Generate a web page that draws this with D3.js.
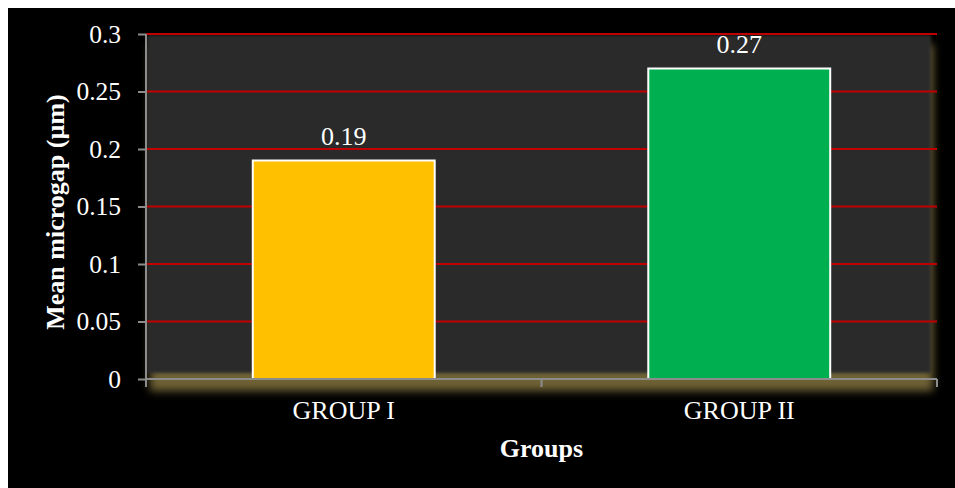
<!DOCTYPE html>
<html>
<head>
<meta charset="utf-8">
<script src="https://cdn.jsdelivr.net/npm/d3@7/dist/d3.min.js"></script>
<style>
  html, body { margin: 0; padding: 0; background: #ffffff; }
  svg { display: block; }
</style>
</head>
<body>
<svg id="chart" width="955" height="488"></svg>
<script>
// Chart data
const groups = ["GROUP I", "GROUP II"];
const meanMicrogap = [0.19, 0.27];
const valueLabels = ["0.19", "0.27"];
const barColors = ["#FFC000", "#00B050"];
const yTicks = [0, 0.05, 0.1, 0.15, 0.2, 0.25, 0.3];
const yTickLabels = ["0", "0.05", "0.1", "0.15", "0.2", "0.25", "0.3"];

const svg = d3.select("#chart");
const W = 955, H = 488;
const plot = { left: 146, right: 937, top: 34, bottom: 379 };
const serif = "'Liberation Serif', 'Times New Roman', serif";
const tickFont = 25.5;
const labelFont = 26;

// Chart area: black panel inside a thin white margin
svg.append("rect").attr("x", 0).attr("y", 0).attr("width", W).attr("height", H).attr("fill", "#ffffff");
svg.append("rect").attr("x", 8).attr("y", 8).attr("width", W - 8).attr("height", H - 8).attr("fill", "#000000");

const defs = svg.append("defs");
defs.append("filter").attr("id", "glow").attr("x", "-10%").attr("y", "-10%").attr("width", "120%").attr("height", "130%")
  .append("feGaussianBlur").attr("stdDeviation", 4);
defs.append("filter").attr("id", "soft").attr("x", "-5%").attr("y", "-5%").attr("width", "110%").attr("height", "110%")
  .append("feGaussianBlur").attr("stdDeviation", 1.5);

const x = d3.scaleBand().domain(groups).range([plot.left, plot.right]).paddingInner(0.54).paddingOuter(0.27);
const y = d3.scaleLinear().domain([0, 0.3]).range([plot.bottom, plot.top]);

// Plot background with an olive glow along its lower edge
svg.append("rect")
  .attr("x", plot.left + 4).attr("y", plot.top + 10)
  .attr("width", plot.right - plot.left - 8).attr("height", plot.bottom - plot.top + 2)
  .attr("fill", "#6e6234").attr("filter", "url(#glow)");
svg.append("rect")
  .attr("x", plot.left + 1).attr("y", plot.top + 1)
  .attr("width", plot.right - plot.left - 7).attr("height", plot.bottom - plot.top - 7)
  .attr("fill", "#292929").attr("filter", "url(#soft)");

// Horizontal gridlines
svg.append("g").selectAll("line")
  .data(yTicks.filter(d => d > 0))
  .join("line")
  .attr("x1", plot.left).attr("x2", plot.right)
  .attr("y1", d => y(d)).attr("y2", d => y(d))
  .attr("stroke", "#C00000").attr("stroke-width", 2);

// Bars
svg.append("g").selectAll("rect")
  .data(groups)
  .join("rect")
  .attr("x", d => x(d))
  .attr("y", (d, i) => y(meanMicrogap[i]))
  .attr("width", x.bandwidth())
  .attr("height", (d, i) => y(0) - y(meanMicrogap[i]))
  .attr("fill", (d, i) => barColors[i])
  .attr("stroke", "#ffffff").attr("stroke-width", 2);

// Value labels
svg.append("g").selectAll("text")
  .data(groups)
  .join("text")
  .attr("x", d => x(d) + x.bandwidth() / 2)
  .attr("y", (d, i) => y(meanMicrogap[i]) - 16)
  .attr("text-anchor", "middle")
  .attr("font-family", serif).attr("font-size", labelFont).attr("fill", "#ffffff")
  .text((d, i) => valueLabels[i]);

// Y axis
const yAxis = d3.axisLeft(y).tickValues(yTicks).tickFormat((d, i) => yTickLabels[i]).tickSize(8).tickPadding(17);
const gy = svg.append("g").attr("transform", `translate(${plot.left},0)`).call(yAxis);
gy.attr("font-family", serif).attr("font-size", tickFont);
gy.select(".domain").attr("stroke", "#8c8c8c").attr("stroke-width", 2).attr("d", `M0,${plot.top}V${plot.bottom}`);
gy.selectAll(".tick line").attr("stroke", "#8c8c8c").attr("stroke-width", 2);
gy.selectAll(".tick text").attr("fill", "#ffffff").attr("dy", "0.32em");

// X axis
const xAxis = d3.axisBottom(x).tickSize(0).tickPadding(24);
const gx = svg.append("g").attr("transform", `translate(0,${plot.bottom})`).call(xAxis);
gx.attr("font-family", serif).attr("font-size", labelFont);
gx.select(".domain").attr("stroke", "#8c8c8c").attr("stroke-width", 2).attr("d", `M${plot.left},0H${plot.right}`);
gx.selectAll(".tick text").attr("fill", "#ffffff").attr("dy", "0.6em");
// Category boundary ticks
const boundaries = [plot.left, (x(groups[0]) + x.bandwidth() + x(groups[1])) / 2, plot.right];
gx.append("g").selectAll("line").data(boundaries).join("line")
  .attr("x1", d => d).attr("x2", d => d).attr("y1", 0).attr("y2", 8)
  .attr("stroke", "#8c8c8c").attr("stroke-width", 2);

// Axis titles
svg.append("text")
  .attr("transform", `translate(64,212) rotate(-90)`)
  .attr("text-anchor", "middle")
  .attr("font-family", serif).attr("font-size", labelFont).attr("font-weight", "bold").attr("fill", "#ffffff")
  .text("Mean microgap (µm)");
svg.append("text")
  .attr("x", (plot.left + plot.right) / 2).attr("y", 457)
  .attr("text-anchor", "middle")
  .attr("font-family", serif).attr("font-size", labelFont).attr("font-weight", "bold").attr("fill", "#ffffff")
  .text("Groups");
</script>
</body>
</html>
